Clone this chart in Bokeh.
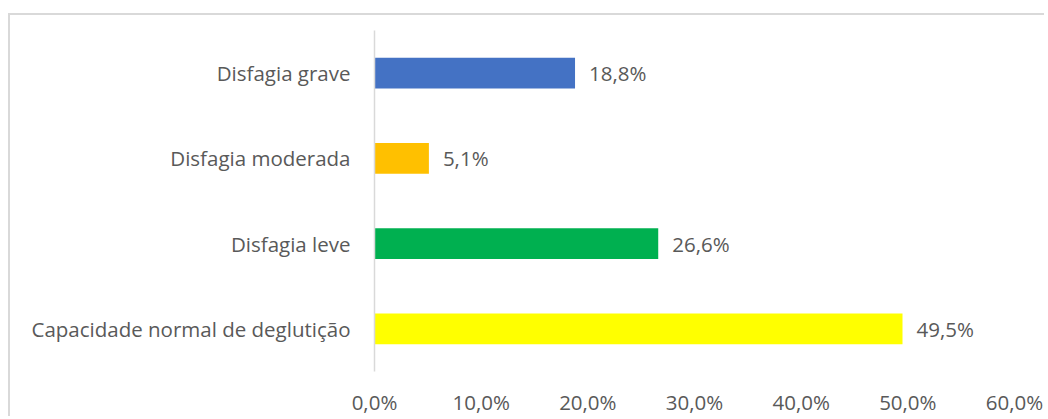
from bokeh.plotting import figure
from bokeh.models import FactorRange, ColumnDataSource, FixedTicker, CustomJSTickFormatter
from bokeh.core.properties import value
from bokeh.embed import file_html
from bokeh.resources import INLINE

categories = ["Disfagia grave", "Disfagia moderada", "Disfagia leve", "Capacidade normal de deglutição"]
values = [18.8, 5.1, 26.6, 49.5]
colors = ["#4472C4", "#FFC000", "#00B050", "#FFFF00"]
labels = ["18,8%", "5,1%", "26,6%", "49,5%"]
x_ticks = [0, 10, 20, 30, 40, 50, 60]

FONT = "Open Sans"
FS = "20.5px"
TXT = "#595959"

src = ColumnDataSource(dict(cat=categories, val=values, color=colors, lab=labels))

p = figure(width=1036, height=403, output_backend="svg", toolbar_location=None,
           y_range=FactorRange(factors=categories[::-1]),
           x_range=(0, 60), min_border_left=364, min_border_right=32,
           min_border_top=15, min_border_bottom=41)
p.y_range.range_padding = 0
p.y_range.factor_padding = 0
p.styles = {"border-top": "2px solid #D9D9D9", "border-left": "2px solid #D9D9D9",
            "margin-top": "13px", "margin-left": "8px"}

p.hbar(y="cat", right="val", left=0, height=0.36, color="color", source=src, line_color=None)
p.text(x="val", y="cat", text="lab", source=src, x_offset=14, text_baseline="middle",
       text_font=value(FONT), text_font_size=FS, text_color=TXT)

p.outline_line_color = None
p.xgrid.visible = False
p.ygrid.visible = False

xa = p.xaxis[0]
xa.ticker = FixedTicker(ticks=x_ticks)
xa.formatter = CustomJSTickFormatter(code="return tick.toFixed(1).replace('.', ',') + '%';")
xa.axis_line_color = None
xa.major_tick_line_color = None
xa.minor_tick_line_color = None
xa.major_tick_out = 0
xa.major_label_standoff = 16
xa.major_label_text_font = FONT
xa.major_label_text_font_size = FS
xa.major_label_text_color = TXT

ya = p.yaxis[0]
ya.axis_line_color = "#D9D9D9"
ya.axis_line_width = 1.5
ya.major_tick_line_color = None
ya.minor_tick_line_color = None
ya.major_tick_out = 0
ya.major_label_standoff = 24
ya.major_label_text_font = FONT
ya.major_label_text_font_size = FS
ya.major_label_text_color = TXT

open("out.html", "w").write(file_html(p, INLINE))
